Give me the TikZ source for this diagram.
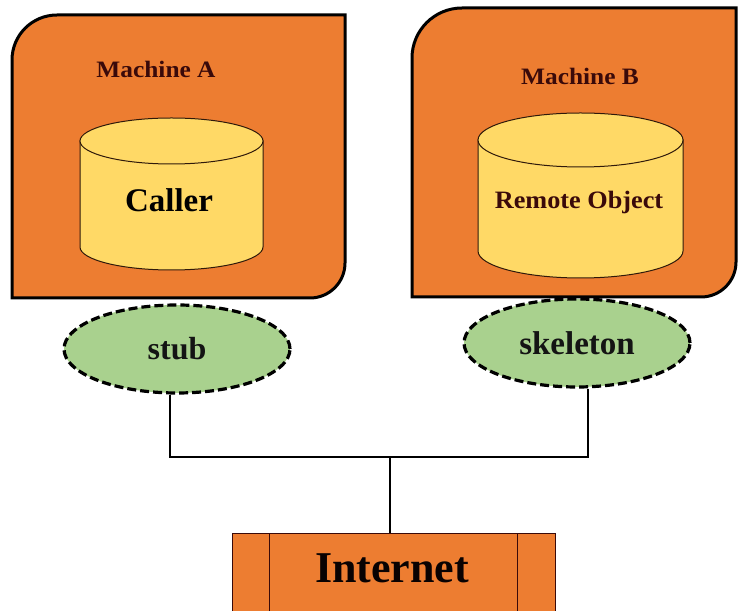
\documentclass[tikz,border=0pt]{standalone}
\usepackage{fontspec}
\setmainfont{Liberation Serif}
\usetikzlibrary{shapes.geometric}
\definecolor{orng}{HTML}{ED7D31}
\definecolor{yell}{HTML}{FFD966}
\definecolor{grn}{HTML}{A9D18E}
\definecolor{maroon}{HTML}{3A0A0A}
\definecolor{darktxt}{HTML}{141414}
\tikzset{
  machine/.style={draw=black, line width=3pt, fill=orng},
  cyl/.style={draw=black!80!orng, line width=1pt, fill=yell},
  proxy/.style={ellipse, draw=black, line width=3.2pt, dash pattern=on 9pt off 4pt, fill=grn, inner sep=0pt, text=darktxt},
  conn/.style={draw=black, line width=1.3pt},
  lbl/.style={font=\bfseries, text=maroon, inner sep=0pt},
  inetbox/.style={draw=maroon, line width=0.8pt, fill=orng, inner sep=0pt},
}
\begin{document}
\begin{tikzpicture}[x=1pt,y=1pt]
\useasboundingbox (0,0) rectangle (738,610);
\clip (0,0) rectangle (738,610);
% Machine A
\path[machine] (12,312) -- (12,550) arc[start angle=180,end angle=90,radius=45] -- (345,595) -- (345,347) arc[start angle=0,end angle=-90,radius=35] -- cycle;
% Machine B
\path[machine] (412,313) -- (412,552) arc[start angle=180,end angle=90,radius=50] -- (736,602) -- (736,348) arc[start angle=0,end angle=-90,radius=35] -- cycle;
\node[lbl, font=\bfseries\fontsize{23.5}{26}\selectfont] (ma) at (156,541) {\scalebox{1.08}[1]{Machine A}};
\node[lbl, font=\bfseries\fontsize{23.5}{26}\selectfont] (mb) at (580,534) {\scalebox{1.08}[1]{Machine B}};
% Cylinder A
\path[cyl] (80,469) -- (80,363) arc[start angle=180,end angle=360,x radius=91.5,y radius=23] -- (263,469) -- cycle;
\draw[cyl] (171.5,469) ellipse [x radius=91.5,y radius=23];
\node[lbl, text=black, font=\bfseries\fontsize{33}{36}\selectfont] (caller) at (169,410) {Caller};
% Cylinder B
\path[cyl] (478,470) -- (478,359) arc[start angle=180,end angle=360,x radius=102.5,y radius=27] -- (683,470) -- cycle;
\draw[cyl] (580.5,470) ellipse [x radius=102.5,y radius=27];
\node[lbl, font=\bfseries\fontsize{25}{28}\selectfont] (remote) at (579,408) {\scalebox{1.05}[1]{Remote Object}};
% stub / skeleton
\node[proxy, minimum width=226, minimum height=88, font=\bfseries\fontsize{32}{36}\selectfont] (stub) at (177,261) {stub};
\node[proxy, minimum width=226, minimum height=88, font=\bfseries\fontsize{33}{36}\selectfont] (skel) at (577,267) {skeleton};
% Internet
\node[inetbox, minimum width=323, minimum height=100, anchor=north] (inet) at (393.5,77) {};
\draw[maroon, line width=0.8pt] ([xshift=38]inet.north west) -- ([xshift=38]inet.south west);
\draw[maroon, line width=0.8pt] ([xshift=-38]inet.north east) -- ([xshift=-38]inet.south east);
\node[lbl, font=\bfseries\fontsize{44}{48}\selectfont, text=black!85!maroon] (inettext) at (392,42) {Internet};
% connectors
\coordinate (j) at (390,153);
\draw[conn] ([xshift=-7]stub.south) |- (j);
\draw[conn] ([xshift=11]skel.south) |- (j);
\draw[conn] (j) -- (j |- inet.north);
\end{tikzpicture}
\end{document}
